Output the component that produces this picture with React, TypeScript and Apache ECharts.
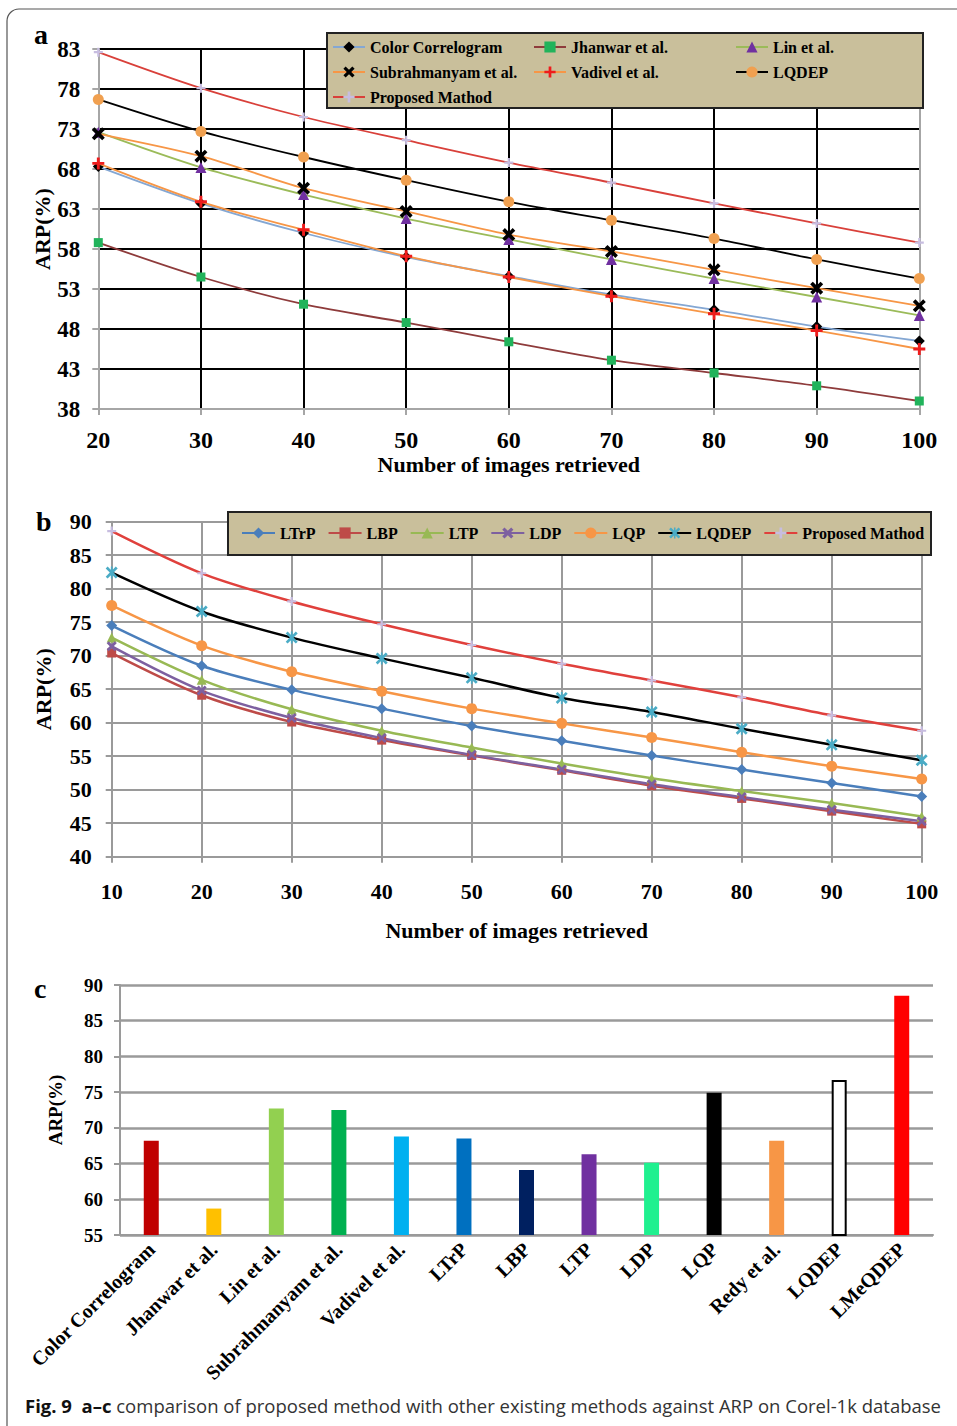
import React, { useEffect, useRef } from "react";
import * as echarts from "echarts";

// ---------- Panel a data ----------
const xA = [20, 30, 40, 50, 60, 70, 80, 90, 100];
const yTicksA = [38, 43, 48, 53, 58, 63, 68, 73, 78, 83];
const aColorCorrelogram = [68.3, 63.7, 60.0, 57.0, 54.6, 52.3, 50.4, 48.3, 46.5];
const aJhanwar = [58.8, 54.5, 51.1, 48.8, 46.4, 44.1, 42.5, 40.9, 39.0];
const aLin = [72.6, 68.2, 64.8, 61.8, 59.2, 56.7, 54.3, 52.0, 49.7];
const aSubrahmanyam = [72.4, 69.6, 65.6, 62.7, 59.8, 57.7, 55.4, 53.1, 50.9];
const aVadivel = [68.7, 63.9, 60.4, 57.1, 54.5, 52.1, 49.9, 47.8, 45.5];
const aLQDEP = [76.7, 72.7, 69.5, 66.6, 63.9, 61.6, 59.3, 56.7, 54.3];
const aProposed = [82.6, 78.1, 74.5, 71.6, 68.8, 66.3, 63.7, 61.2, 58.8];

// ---------- Panel b data ----------
const xB = [10, 20, 30, 40, 50, 60, 70, 80, 90, 100];
const bLTrP = [74.5, 68.5, 64.9, 62.1, 59.5, 57.3, 55.1, 53.0, 51.0, 49.0];
const bLBP = [70.4, 64.1, 60.1, 57.4, 55.1, 52.9, 50.6, 48.7, 46.8, 44.9];
const bLTP = [72.7, 66.4, 62.0, 58.8, 56.3, 53.9, 51.7, 49.8, 48.0, 46.0];
const bLDP = [71.4, 64.8, 60.7, 57.7, 55.2, 53.0, 50.8, 48.9, 47.0, 45.3];
const bLQP = [77.5, 71.5, 67.6, 64.7, 62.1, 59.9, 57.8, 55.6, 53.5, 51.6];
const bLQDEP = [82.4, 76.6, 72.7, 69.6, 66.7, 63.7, 61.6, 59.1, 56.7, 54.4];
const bProposed = [88.6, 82.3, 78.1, 74.7, 71.6, 68.8, 66.3, 63.8, 61.1, 58.8];

// ---------- Panel c data ----------
const cCategories = [
  "Color Correlogram", "Jhanwar et al.", "Lin et al.", "Subrahmanyam et al.",
  "Vadivel et al.", "LTrP", "LBP", "LTP", "LDP", "LQP", "Redy et al.", "LQDEP", "LMeQDEP",
];
const cValues = [68.2, 58.7, 72.7, 72.5, 68.8, 68.5, 64.1, 66.3, 65.1, 74.9, 68.2, 76.7, 88.5];
const cColors = [
  "#c00000", "#ffc000", "#92d050", "#00b050", "#00b0f0", "#0070c0", "#002060",
  "#7030a0", "#1ff08f", "#000000", "#f79646", "#ffffff", "#ff0000",
];

const SERIF = '"Liberation Serif", "Times New Roman", serif';
const X_PATH = "path://M0,2 L2,0 L5,3 L8,0 L10,2 L7,5 L10,8 L8,10 L5,7 L2,10 L0,8 L3,5 Z";
const PLUS_PATH = "path://M3.8,0 H6.2 V3.8 H10 V6.2 H6.2 V10 H3.8 V6.2 H0 V3.8 H3.8 Z";
const STAR_PATH =
  "path://M0,1.6 L1.6,0 L5,3.4 L8.4,0 L10,1.6 L6.6,5 L10,8.4 L8.4,10 L5,6.6 L1.6,10 L0,8.4 L3.4,5 Z M4.3,0 H5.7 V10 H4.3 Z";

const pairs = (xs: number[], ys: number[]) => xs.map((x, i) => [x, ys[i]]);

function lineSeries(
  name: string, idx: number, xs: number[], ys: number[], lineColor: string, lineWidth: number,
  symbol: string, symbolSize: number, symbolColor: string, z: number
) {
  return {
    type: "line",
    name,
    xAxisIndex: idx,
    yAxisIndex: idx,
    data: pairs(xs, ys),
    smooth: 0.3,
    symbol,
    symbolSize,
    showSymbol: true,
    lineStyle: { color: lineColor, width: lineWidth },
    itemStyle: { color: symbolColor, borderWidth: 0 },
    emphasis: { disabled: true },
    silent: true,
    z,
  };
}

export default function App() {
  const ref = useRef<HTMLDivElement>(null);

  useEffect(() => {
    if (!ref.current) return;
    const chart = echarts.init(ref.current, null, { renderer: "svg" });
    const grey = "#a6a6a6";
    const labelStyle = (size: number, margin: number) => ({
      fontFamily: SERIF, fontWeight: "bold", fontSize: size, color: "#000", margin,
    });
    const nameStyle = (size: number) => ({ fontFamily: SERIF, fontWeight: "bold", fontSize: size, color: "#000" });
    const legendText = { fontFamily: SERIF, fontWeight: "bold", fontSize: 16, color: "#000", lineHeight: 16 };

    const option: any = {
      animation: false,
      backgroundColor: "#ffffff",
      grid: [
        { left: 98.3, width: 821, top: 49, height: 360, outerBoundsMode: "none" },
        { left: 111.7, width: 810, top: 521.7, height: 335, outerBoundsMode: "none" },
        { left: 120, width: 813, top: 985, height: 250, outerBoundsMode: "none" },
      ],
      xAxis: [
        {
          gridIndex: 0, type: "value", min: 20, max: 100, interval: 10,
          axisLine: { show: true, onZero: false, lineStyle: { color: grey, width: 2 } },
          axisTick: { show: true, length: 6, lineStyle: { color: grey, width: 2 } },
          axisLabel: labelStyle(24, 19),
          splitLine: {
            show: true,
            lineStyle: { color: xA.map((_, i) => (i === xA.length - 1 ? grey : "#000")), width: 2 },
          },
          name: "Number of images retrieved", nameLocation: "middle", nameGap: 44,
          nameMoveOverlap: false, nameTextStyle: nameStyle(22),
        },
        {
          gridIndex: 1, type: "value", min: 10, max: 100, interval: 10,
          axisLine: { show: true, onZero: false, lineStyle: { color: "#9a9a9a", width: 2 } },
          axisTick: { show: true, length: 6, lineStyle: { color: "#9a9a9a", width: 2 } },
          axisLabel: labelStyle(22, 24),
          splitLine: { show: true, lineStyle: { color: "#9a9a9a", width: 2 } },
          name: "Number of images retrieved", nameLocation: "middle", nameGap: 63,
          nameMoveOverlap: false, nameTextStyle: nameStyle(22),
        },
        {
          gridIndex: 2, type: "category", data: cCategories,
          axisLine: { show: true, onZero: false, lineStyle: { color: "#9a9a9a", width: 2 } },
          axisTick: { show: false },
          axisLabel: { ...labelStyle(20, 11), rotate: 45, interval: 0 },
          splitLine: { show: false },
        },
      ],
      yAxis: [
        {
          gridIndex: 0, type: "value", min: 38, max: 83,
          axisLine: { show: true, onZero: false, lineStyle: { color: grey, width: 2 } },
          axisTick: { show: true, length: 6, customValues: yTicksA, lineStyle: { color: grey, width: 2 } },
          axisLabel: { ...labelStyle(23, 18), customValues: yTicksA },
          splitLine: {
            show: true,
            lineStyle: { color: yTicksA.map((_, i) => (i === 0 ? grey : "#000")), width: 2 },
          },
          name: "ARP(%)", nameLocation: "middle", nameGap: 45,
          nameMoveOverlap: false, nameTextStyle: nameStyle(22),
        },
        {
          gridIndex: 1, type: "value", min: 40, max: 90, interval: 5,
          axisLine: { show: true, onZero: false, lineStyle: { color: "#9a9a9a", width: 2 } },
          axisTick: { show: true, length: 6, lineStyle: { color: "#9a9a9a", width: 2 } },
          axisLabel: labelStyle(22, 20),
          splitLine: { show: true, lineStyle: { color: "#9a9a9a", width: 2 } },
          name: "ARP(%)", nameLocation: "middle", nameGap: 57,
          nameMoveOverlap: false, nameTextStyle: nameStyle(22),
        },
        {
          gridIndex: 2, type: "value", min: 55, max: 90, interval: 5,
          axisLine: { show: true, onZero: false, lineStyle: { color: "#9a9a9a", width: 2 } },
          axisTick: { show: true, length: 6, lineStyle: { color: "#9a9a9a", width: 2 } },
          axisLabel: labelStyle(19, 17),
          splitLine: { show: true, lineStyle: { color: "#9a9a9a", width: 2.5 } },
          name: "ARP(%)", nameLocation: "middle", nameGap: 55,
          nameMoveOverlap: false, nameTextStyle: nameStyle(19),
        },
      ],
      legend: [
        {
          left: 332, top: 39, orient: "vertical", padding: 0, itemGap: 9, itemWidth: 32, itemHeight: 14,
          data: ["Color Correlogram", "Subrahmanyam et al.", "Proposed Mathod"],
          textStyle: legendText, selectedMode: false, z: 10,
        },
        {
          left: 533, top: 39, orient: "vertical", padding: 0, itemGap: 9, itemWidth: 32, itemHeight: 14,
          data: ["Jhanwar et al.", "Vadivel et al."],
          textStyle: legendText, selectedMode: false, z: 10,
        },
        {
          left: 735, top: 39, orient: "vertical", padding: 0, itemGap: 9, itemWidth: 32, itemHeight: 14,
          data: ["Lin et al.", "LQDEP"],
          textStyle: legendText, selectedMode: false, z: 10,
        },
        {
          left: 241, top: 525, orient: "horizontal", padding: 0, itemGap: 12, itemWidth: 33, itemHeight: 14,
          data: ["LTrP", "LBP", "LTP", "LDP", "LQP", "LQDEP ", "Proposed Mathod "],
          formatter: (n: string) => n.trim(),
          textStyle: legendText, selectedMode: false, z: 10,
        },
      ],
      series: [
        // panel a
        lineSeries("Color Correlogram", 0, xA, aColorCorrelogram, "#84a7d3", 1.8, "diamond", 11, "#000000", 3),
        lineSeries("Jhanwar et al.", 0, xA, aJhanwar, "#8e3b3b", 1.8, "rect", 9, "#21b35b", 3),
        lineSeries("Lin et al.", 0, xA, aLin, "#9bbb59", 1.8, "triangle", 11, "#7030a0", 3),
        lineSeries("Subrahmanyam et al.", 0, xA, aSubrahmanyam, "#f79646", 1.8, X_PATH, 13, "#000000", 4),
        lineSeries("Vadivel et al.", 0, xA, aVadivel, "#f79646", 1.8, PLUS_PATH, 12, "#ee1c1c", 4),
        lineSeries("LQDEP", 0, xA, aLQDEP, "#000000", 1.8, "circle", 11, "#f0a050", 3),
        lineSeries("Proposed Mathod", 0, xA, aProposed, "#d9403a", 1.8, PLUS_PATH, 9, "#c7bde0", 3),
        // panel b
        lineSeries("LTrP", 1, xB, bLTrP, "#4a7ebb", 2.5, "diamond", 11, "#4a7ebb", 3),
        lineSeries("LBP", 1, xB, bLBP, "#be4b48", 2.5, "rect", 9, "#be4b48", 3),
        lineSeries("LTP", 1, xB, bLTP, "#98b954", 2.5, "triangle", 10, "#98b954", 3),
        lineSeries("LDP", 1, xB, bLDP, "#7d60a0", 2.5, X_PATH, 10, "#7d60a0", 3),
        lineSeries("LQP", 1, xB, bLQP, "#f79646", 2.5, "circle", 11, "#f79646", 3),
        lineSeries("LQDEP ", 1, xB, bLQDEP, "#000000", 2.5, STAR_PATH, 12, "#4bacc6", 3),
        lineSeries("Proposed Mathod ", 1, xB, bProposed, "#e0403c", 2.5, PLUS_PATH, 9, "#c7bde0", 3),
        // panel c
        {
          type: "bar",
          xAxisIndex: 2,
          yAxisIndex: 2,
          barWidth: 15,
          silent: true,
          emphasis: { disabled: true },
          data: cValues.map((v, i) => ({
            value: v,
            itemStyle: {
              color: cColors[i],
              borderColor: i === 11 ? "#000000" : cColors[i],
              borderWidth: i === 11 ? 2 : 0,
            },
          })),
        },
      ],
      graphic: {
        elements: [
          {
            type: "rect", silent: true, z: 0,
            shape: { x: 7, y: 9, width: 1000, height: 1440, r: 12 },
            style: { fill: "none", stroke: "#555", lineWidth: 1.2 },
          },
          {
            type: "rect", silent: true, z: 5,
            shape: { x: 327, y: 33, width: 596, height: 75 },
            style: { fill: "#c9bf9b", stroke: "#222", lineWidth: 2 },
          },
          {
            type: "rect", silent: true, z: 5,
            shape: { x: 228, y: 512, width: 703, height: 43 },
            style: { fill: "#c9bf9b", stroke: "#222", lineWidth: 2 },
          },
          {
            type: "text", left: 34, top: 20, z: 6,
            style: { text: "a", font: `bold 28px ${SERIF}`, fill: "#000" },
          },
          {
            type: "text", left: 36, top: 507, z: 6,
            style: { text: "b", font: `bold 28px ${SERIF}`, fill: "#000" },
          },
          {
            type: "text", left: 34, top: 974, z: 6,
            style: { text: "c", font: `bold 28px ${SERIF}`, fill: "#000" },
          },
          {
            type: "text", left: 25, top: 1396, z: 6,
            style: {
              text: "{b|Fig. 9  a–c} comparison of proposed method with other existing methods against ARP on Corel-1k database",
              fontFamily: '"Open Sans", sans-serif',
              fontSize: 18.5,
              fill: "#333",
              rich: {
                b: { fontFamily: '"Open Sans", sans-serif', fontSize: 18.5, fontWeight: "bold", fill: "#111" },
              },
            },
          },
        ],
      },
    };

    chart.setOption(option);
    return () => chart.dispose();
  }, []);

  return (
    <div
      ref={ref}
      style={{ position: "absolute", left: 0, top: 0, width: 957, height: 1426, background: "#fff" }}
    />
  );
}
